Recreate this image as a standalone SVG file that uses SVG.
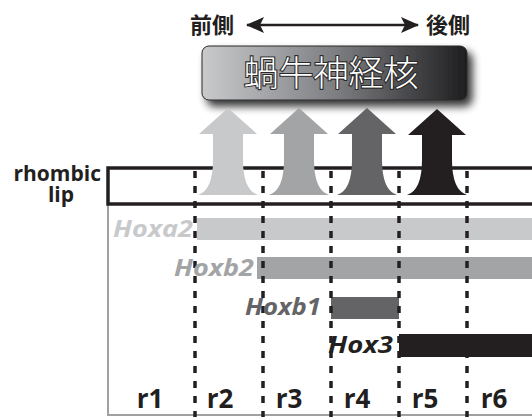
<svg xmlns="http://www.w3.org/2000/svg" width="532" height="417" viewBox="0 0 532 417">
<style>
.lbl{font-family:"Open Sans","Liberation Sans",sans-serif;font-weight:bold;fill:#231f20}
.hox{font-family:"Open Sans","Liberation Sans",sans-serif;font-weight:bold;font-style:italic;font-size:24px}
.r{font-size:26px}
.jp{font-family:"Noto Sans CJK JP",sans-serif;font-weight:bold;font-size:22px;fill:#231f20}
.dash{stroke:#231f20;stroke-width:3.5;stroke-dasharray:7 8;fill:none}
</style>
<defs>
<linearGradient id="boxg" x1="0" y1="0" x2="1" y2="0">
<stop offset="0" stop-color="#c9cacc"/>
<stop offset="0.5" stop-color="#7e7f82"/>
<stop offset="1" stop-color="#1e1e20"/>
</linearGradient>
<filter id="sh" x="-10%" y="-30%" width="130%" height="180%">
<feGaussianBlur in="SourceAlpha" stdDeviation="4"/>
<feOffset dx="5" dy="6" result="b"/>
<feComponentTransfer><feFuncA type="linear" slope="0.8"/></feComponentTransfer>
<feMerge><feMergeNode/><feMergeNode in="SourceGraphic"/></feMerge>
</filter>
<marker id="ah" viewBox="0 0 18 18" refX="17" refY="9" markerWidth="18" markerHeight="18" markerUnits="userSpaceOnUse" orient="auto-start-reverse">
<path d="M0,1 L18,9 L0,17 L4,9 Z" fill="#231f20"/>
</marker>
</defs>

<g id="axis">
<text class="jp" x="190" y="33">前側</text>
<text class="jp" x="426" y="33">後側</text>
</g>

<g id="nucleus">
<rect x="202" y="46" width="265" height="54" rx="7" fill="url(#boxg)" stroke="#2a2a2a" stroke-width="1" filter="url(#sh)"/>
<text x="331" y="86" text-anchor="middle" font-family="'Noto Sans CJK JP',sans-serif" font-weight="300" font-size="35" fill="#ffffff" stroke="#2a2a2a" stroke-width="2.2" paint-order="stroke">蝸牛神経核</text>
</g>

<g id="frame">
<line x1="108" y1="204" x2="108" y2="415" stroke="#a0a0a2" stroke-width="2"/>
<line x1="107" y1="415" x2="532" y2="415" stroke="#a0a0a2" stroke-width="2"/>
</g>

<g id="rhombic-lip">
<rect x="108" y="168" width="430" height="36" fill="none" stroke="#231f20" stroke-width="3.5"/>
<text class="lbl" x="101" y="181" font-size="21" text-anchor="end">rhombic</text>
<text class="lbl" x="61" y="202" font-size="21" text-anchor="middle">lip</text>
</g>

<g id="bars">
<rect x="197" y="218" width="340" height="22" fill="#c8c9cb"/>
<rect x="257" y="257" width="280" height="22" fill="#a3a4a6"/>
<rect x="331" y="297" width="68" height="22" fill="#646466"/>
<rect x="399" y="334" width="140" height="23" fill="#231f20"/>
</g>

<g id="dividers">
<line class="dash" x1="195" y1="171" x2="195" y2="417"/>
<line class="dash" x1="263" y1="171" x2="263" y2="417"/>
<line class="dash" x1="331" y1="171" x2="331" y2="417"/>
<line class="dash" x1="399" y1="171" x2="399" y2="417"/>
<line class="dash" x1="467" y1="171" x2="467" y2="417"/>
</g>

<g id="hox-labels">
<text class="hox" x="113" y="237" textLength="80" lengthAdjust="spacingAndGlyphs" fill="#c8c9cb">Hoxa2</text>
<text class="hox" x="174" y="276" textLength="80" lengthAdjust="spacingAndGlyphs" fill="#a3a4a6">Hoxb2</text>
<text class="hox" x="245" y="315" textLength="76" lengthAdjust="spacingAndGlyphs" fill="#646466">Hoxb1</text>
<text class="hox" x="328" y="353" textLength="65" lengthAdjust="spacingAndGlyphs" fill="#231f20">Hox3</text>
</g>

<g id="rhombomeres">
<text class="lbl r" x="150" y="408" text-anchor="middle">r1</text>
<text class="lbl r" x="220" y="408" text-anchor="middle">r2</text>
<text class="lbl r" x="289" y="408" text-anchor="middle">r3</text>
<text class="lbl r" x="357" y="408" text-anchor="middle">r4</text>
<text class="lbl r" x="425" y="408" text-anchor="middle">r5</text>
<text class="lbl r" x="494" y="408" text-anchor="middle">r6</text>
</g>

<g id="arrows">
<path d="M228,108 L257,134 L243,134 L243,160 Q243,190 258,195 L198,195 Q213,190 213,160 L213,134 L199,134 Z" fill="#c8c9cb"/>
<path d="M299,108 L328,134 L314,134 L314,160 Q314,190 329,195 L269,195 Q284,190 284,160 L284,134 L270,134 Z" fill="#a3a4a6"/>
<path d="M367,108 L396,134 L382,134 L382,160 Q382,190 397,195 L337,195 Q352,190 352,160 L352,134 L338,134 Z" fill="#646466"/>
<path d="M437,109 L466,135 L452,135 L452,160 Q452,190 467,195 L407,195 Q422,190 422,160 L422,135 L408,135 Z" fill="#231f20"/>
</g>

<g id="connectors">
<line x1="247" y1="25" x2="418" y2="25" stroke="#231f20" stroke-width="2.5" marker-start="url(#ah)" marker-end="url(#ah)"/>
</g>
</svg>
